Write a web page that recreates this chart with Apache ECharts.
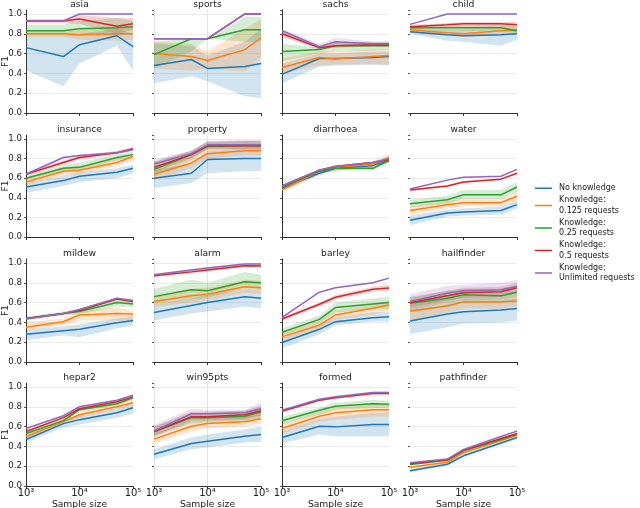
<!DOCTYPE html>
<html><head><meta charset="utf-8">
<script src="https://cdn.jsdelivr.net/npm/echarts/dist/echarts.min.js"></script>
<style>html,body{margin:0;padding:0;background:#fff}#c{width:640px;height:508px}</style>
</head><body><div id="c"></div>
<script>
// ---------- data ----------
const sampleSizes = [1000, 5000, 10000, 50000, 100000];
const seriesNames = ['No knowledge', 'Knowledge:\n0.125 requests', 'Knowledge:\n0.25 requests', 'Knowledge:\n0.5 requests', 'Knowledge:\nUnlimited requests'];
const seriesColors = ['#1f77b4', '#ff7f0e', '#2ca02c', '#d62728', '#9467bd'];
const panelNames = ['asia','sports','sachs','child','insurance','property','diarrhoea','water','mildew','alarm','barley','hailfinder','hepar2','win95pts','formed','pathfinder'];
const yTicks = [0, 0.2, 0.4, 0.6, 0.8, 1.0];

// order in each: [No knowledge, 0.125, 0.25, 0.5, Unlimited]
const asiaMean = [[0.66,0.57,0.69,0.78,0.67],[0.80,0.80,0.79,0.80,0.80],[0.83,0.83,0.85,0.86,0.87],[0.93,0.93,0.95,0.875,0.90],[0.93,0.93,1.0,1.0,1.0]];
const asiaLo   = [[0.43,0.27,0.50,0.68,0.43],[0.77,0.77,0.74,0.73,0.74],[0.77,0.77,0.79,0.78,0.80],[0.91,0.91,0.90,0.80,0.84],[0.93,0.93,1.0,1.0,1.0]];
const asiaHi   = [[0.77,0.77,0.80,0.85,0.80],[0.83,0.83,0.84,0.86,0.86],[0.89,0.89,0.93,0.96,0.93],[0.95,0.95,0.99,0.96,0.96],[0.93,0.93,1.0,1.0,1.0]];

const sportsMean = [[0.48,0.54,0.45,0.47,0.50],[0.60,0.57,0.53,0.64,0.76],[0.59,0.75,0.75,0.84,0.84],[0.75,0.75,0.75,1.0,1.0],[0.75,0.75,0.75,1.0,1.0]];
const sportsLo   = [[0.30,0.37,0.32,0.17,0.15],[0.45,0.43,0.45,0.42,0.56],[0.45,0.62,0.75,0.72,0.72],[0.75,0.75,0.75,1.0,1.0],[0.75,0.75,0.75,1.0,1.0]];
const sportsHi   = [[0.70,0.68,0.58,0.72,0.85],[0.72,0.70,0.62,0.85,0.95],[0.72,0.75,0.75,0.97,0.97],[0.75,0.75,0.75,1.0,1.0],[0.75,0.75,0.75,1.0,1.0]];

const sachsMean = [[0.39,0.55,0.55,0.56,0.57],[0.46,0.56,0.545,0.57,0.58],[0.62,0.64,0.68,0.68,0.68],[0.80,0.66,0.68,0.69,0.69],[0.83,0.67,0.72,0.70,0.70]];
const sachsLo   = [[0.30,0.47,0.48,0.49,0.48],[0.40,0.48,0.49,0.49,0.49],[0.52,0.60,0.62,0.63,0.64],[0.77,0.64,0.66,0.67,0.67],[0.80,0.64,0.68,0.68,0.68]];
const sachsHi   = [[0.50,0.60,0.60,0.62,0.62],[0.55,0.62,0.62,0.64,0.65],[0.70,0.66,0.72,0.72,0.72],[0.84,0.68,0.72,0.71,0.71],[0.85,0.70,0.76,0.72,0.72]];

const childMean = [[0.82,0.79,0.78,0.79,0.80],[0.84,0.81,0.80,0.83,0.84],[0.86,0.86,0.86,0.86,0.83],[0.87,0.89,0.90,0.90,0.89],[0.895,1.0,1.0,1.0,1.0]];
const childLo   = [[0.80,0.73,0.72,0.68,0.74],[0.81,0.78,0.77,0.79,0.80],[0.84,0.83,0.83,0.83,0.81],[0.85,0.87,0.87,0.87,0.86],[0.895,1.0,1.0,1.0,1.0]];
const childHi   = [[0.84,0.84,0.84,0.84,0.85],[0.86,0.85,0.85,0.87,0.87],[0.88,0.88,0.88,0.89,0.87],[0.89,0.91,0.92,0.92,0.92],[0.895,1.0,1.0,1.0,1.0]];

const insuranceMean = [[0.51,0.575,0.62,0.66,0.70],[0.56,0.67,0.68,0.76,0.82],[0.60,0.70,0.71,0.81,0.84],[0.64,0.76,0.81,0.86,0.90],[0.64,0.81,0.83,0.86,0.89]];
const insuranceLo   = [[0.45,0.52,0.56,0.60,0.65],[0.53,0.62,0.64,0.72,0.78],[0.58,0.67,0.68,0.78,0.82],[0.62,0.74,0.79,0.84,0.88],[0.63,0.80,0.82,0.85,0.88]];
const insuranceHi   = [[0.55,0.62,0.66,0.70,0.74],[0.59,0.71,0.73,0.80,0.85],[0.62,0.73,0.76,0.84,0.87],[0.66,0.78,0.83,0.88,0.92],[0.65,0.82,0.84,0.87,0.90]];

const propertyMean = [[0.60,0.65,0.79,0.80,0.80],[0.64,0.755,0.85,0.88,0.88],[0.69,0.84,0.925,0.93,0.93],[0.71,0.84,0.93,0.93,0.93],[0.745,0.85,0.94,0.94,0.94]];
const propertyLo   = [[0.50,0.55,0.65,0.67,0.67],[0.58,0.70,0.80,0.83,0.83],[0.62,0.78,0.89,0.89,0.89],[0.66,0.80,0.90,0.90,0.90],[0.69,0.81,0.90,0.90,0.90]];
const propertyHi   = [[0.68,0.75,0.88,0.90,0.90],[0.72,0.82,0.92,0.95,0.95],[0.76,0.88,0.97,0.98,0.98],[0.77,0.88,0.97,0.98,0.98],[0.79,0.88,0.98,0.99,0.99]];

const diarrhoeaMean = [[0.50,0.65,0.70,0.73,0.78],[0.48,0.67,0.71,0.74,0.81],[0.51,0.67,0.70,0.70,0.78],[0.52,0.68,0.72,0.76,0.79],[0.52,0.68,0.72,0.76,0.80]];
const diarrhoeaLo   = [[0.47,0.63,0.68,0.71,0.76],[0.45,0.64,0.67,0.71,0.78],[0.49,0.65,0.68,0.68,0.76],[0.51,0.67,0.71,0.75,0.78],[0.515,0.675,0.715,0.755,0.795]];
const diarrhoeaHi   = [[0.53,0.67,0.72,0.75,0.80],[0.51,0.69,0.74,0.77,0.85],[0.53,0.69,0.72,0.72,0.80],[0.53,0.69,0.73,0.77,0.80],[0.525,0.685,0.725,0.765,0.805]];

const waterMean = [[0.17,0.245,0.255,0.27,0.33],[0.27,0.33,0.35,0.35,0.415],[0.34,0.38,0.43,0.43,0.51],[0.48,0.52,0.56,0.59,0.65],[0.49,0.58,0.61,0.62,0.69]];
const waterLo   = [[0.12,0.21,0.22,0.23,0.29],[0.23,0.29,0.31,0.31,0.37],[0.30,0.34,0.39,0.39,0.46],[0.47,0.51,0.55,0.58,0.64],[0.485,0.575,0.605,0.615,0.685]];
const waterHi   = [[0.22,0.28,0.29,0.31,0.37],[0.31,0.37,0.39,0.39,0.46],[0.38,0.42,0.48,0.48,0.56],[0.49,0.53,0.57,0.60,0.66],[0.495,0.585,0.615,0.625,0.695]];

const mildewMean = [[0.28,0.315,0.33,0.397,0.42],[0.35,0.407,0.475,0.49,0.485],[0.44,0.49,0.51,0.60,0.586],[0.44,0.49,0.52,0.635,0.61],[0.434,0.49,0.53,0.644,0.62]];
const mildewLo   = [[0.22,0.27,0.25,0.34,0.36],[0.32,0.37,0.42,0.42,0.42],[0.42,0.47,0.48,0.56,0.55],[0.43,0.48,0.51,0.62,0.60],[0.43,0.485,0.525,0.64,0.615]];
const mildewHi   = [[0.33,0.36,0.38,0.44,0.46],[0.40,0.44,0.52,0.55,0.52],[0.46,0.51,0.54,0.63,0.62],[0.45,0.50,0.53,0.65,0.63],[0.44,0.495,0.535,0.65,0.625]];

const alarmMean = [[0.50,0.57,0.60,0.66,0.644],[0.61,0.67,0.685,0.76,0.75],[0.66,0.73,0.72,0.81,0.80],[0.87,0.91,0.93,0.973,0.97],[0.88,0.93,0.95,0.99,0.99]];
const alarmLo   = [[0.42,0.49,0.51,0.56,0.54],[0.55,0.60,0.62,0.70,0.69],[0.58,0.63,0.65,0.75,0.73],[0.855,0.895,0.915,0.96,0.955],[0.87,0.92,0.94,0.98,0.98]];
const alarmHi   = [[0.58,0.64,0.68,0.74,0.73],[0.68,0.74,0.75,0.83,0.82],[0.74,0.83,0.80,0.91,0.88],[0.885,0.925,0.945,0.985,0.985],[0.89,0.94,0.96,1.0,1.0]];

const barleyMean = [[0.197,0.33,0.407,0.447,0.457],[0.254,0.373,0.475,0.542,0.576],[0.30,0.43,0.55,0.586,0.60],[0.434,0.583,0.654,0.735,0.746],[0.45,0.705,0.75,0.80,0.847]];
const barleyLo   = [[0.14,0.28,0.37,0.41,0.41],[0.22,0.34,0.43,0.48,0.52],[0.26,0.39,0.50,0.53,0.53],[0.42,0.56,0.63,0.71,0.72],[0.445,0.70,0.745,0.795,0.842]];
const barleyHi   = [[0.24,0.38,0.45,0.50,0.51],[0.30,0.42,0.52,0.58,0.62],[0.34,0.47,0.60,0.64,0.66],[0.46,0.60,0.68,0.76,0.78],[0.455,0.71,0.755,0.805,0.852]];

const hailfinderMean = [[0.413,0.485,0.508,0.525,0.54],[0.515,0.566,0.607,0.607,0.617],[0.593,0.644,0.678,0.67,0.705],[0.60,0.67,0.70,0.71,0.75],[0.61,0.695,0.72,0.73,0.763]];
const hailfinderLo   = [[0.28,0.35,0.39,0.40,0.42],[0.42,0.50,0.54,0.54,0.56],[0.50,0.56,0.60,0.60,0.63],[0.55,0.62,0.65,0.66,0.70],[0.52,0.60,0.62,0.63,0.66]];
const hailfinderHi   = [[0.52,0.58,0.62,0.62,0.64],[0.60,0.64,0.67,0.67,0.69],[0.66,0.72,0.74,0.74,0.78],[0.65,0.72,0.75,0.76,0.80],[0.685,0.77,0.78,0.80,0.83]];

const hepar2Mean = [[0.47,0.63,0.67,0.74,0.79],[0.50,0.65,0.72,0.80,0.84],[0.53,0.66,0.77,0.83,0.89],[0.55,0.69,0.78,0.85,0.90],[0.58,0.71,0.80,0.866,0.916]];
const hepar2Lo   = [[0.44,0.59,0.62,0.69,0.73],[0.48,0.62,0.69,0.77,0.81],[0.51,0.64,0.75,0.81,0.87],[0.54,0.68,0.77,0.84,0.89],[0.575,0.705,0.795,0.861,0.911]];
const hepar2Hi   = [[0.50,0.66,0.71,0.78,0.83],[0.52,0.68,0.75,0.83,0.87],[0.55,0.68,0.79,0.85,0.91],[0.56,0.70,0.79,0.86,0.91],[0.585,0.715,0.805,0.871,0.921]];

const win95ptsMean = [[0.32,0.43,0.453,0.503,0.52],[0.473,0.604,0.63,0.648,0.68],[0.547,0.69,0.69,0.705,0.75],[0.55,0.70,0.70,0.72,0.76],[0.557,0.73,0.73,0.74,0.78]];
const win95ptsLo   = [[0.27,0.37,0.39,0.44,0.446],[0.43,0.55,0.58,0.60,0.63],[0.50,0.63,0.63,0.65,0.68],[0.51,0.65,0.66,0.67,0.71],[0.50,0.66,0.67,0.68,0.72]];
const win95ptsHi   = [[0.37,0.49,0.52,0.57,0.60],[0.53,0.65,0.67,0.70,0.74],[0.60,0.73,0.74,0.76,0.80],[0.60,0.75,0.75,0.76,0.81],[0.62,0.78,0.77,0.77,0.84]];

const formedMean = [[0.49,0.604,0.597,0.62,0.62],[0.58,0.705,0.74,0.77,0.77],[0.658,0.765,0.805,0.83,0.825],[0.755,0.865,0.89,0.935,0.935],[0.765,0.876,0.90,0.943,0.943]];
const formedLo   = [[0.43,0.52,0.50,0.50,0.50],[0.53,0.65,0.67,0.70,0.70],[0.62,0.72,0.77,0.79,0.79],[0.745,0.855,0.88,0.925,0.925],[0.755,0.866,0.89,0.933,0.933]];
const formedHi   = [[0.55,0.68,0.70,0.74,0.74],[0.63,0.75,0.79,0.82,0.82],[0.70,0.79,0.84,0.87,0.86],[0.765,0.875,0.90,0.945,0.945],[0.775,0.886,0.91,0.953,0.953]];

const pathfinderMean = [[0.154,0.22,0.305,0.435,0.49],[0.19,0.24,0.336,0.46,0.513],[0.218,0.26,0.356,0.47,0.523],[0.225,0.265,0.36,0.48,0.53],[0.235,0.272,0.37,0.50,0.554]];
const pathfinderLo   = [[0.14,0.205,0.29,0.42,0.475],[0.18,0.23,0.326,0.45,0.503],[0.21,0.252,0.348,0.462,0.515],[0.22,0.26,0.355,0.475,0.525],[0.23,0.268,0.366,0.496,0.55]];
const pathfinderHi   = [[0.168,0.235,0.32,0.45,0.505],[0.20,0.25,0.346,0.47,0.523],[0.226,0.268,0.364,0.478,0.531],[0.23,0.27,0.365,0.485,0.535],[0.24,0.276,0.374,0.504,0.558]];

const panelMeans = [asiaMean, sportsMean, sachsMean, childMean, insuranceMean, propertyMean, diarrhoeaMean, waterMean, mildewMean, alarmMean, barleyMean, hailfinderMean, hepar2Mean, win95ptsMean, formedMean, pathfinderMean];
const panelLos = [asiaLo, sportsLo, sachsLo, childLo, insuranceLo, propertyLo, diarrhoeaLo, waterLo, mildewLo, alarmLo, barleyLo, hailfinderLo, hepar2Lo, win95ptsLo, formedLo, pathfinderLo];
const panelHis = [asiaHi, sportsHi, sachsHi, childHi, insuranceHi, propertyHi, diarrhoeaHi, waterHi, mildewHi, alarmHi, barleyHi, hailfinderHi, hepar2Hi, win95ptsHi, formedHi, pathfinderHi];

// ---------- layout ----------
const FONT = 'DejaVu Sans';
const colLeft = [26, 154, 282, 410];
const rowTop = [10, 135, 259, 383];
const rowH = [103, 102, 103, 103];
const plotW = 107;
const sup = {3: '\u00b3', 4: '\u2074', 5: '\u2075'};

function hexA(hex, a) {
  const n = parseInt(hex.slice(1), 16);
  return 'rgba(' + ((n >> 16) & 255) + ',' + ((n >> 8) & 255) + ',' + (n & 255) + ',' + a + ')';
}

const grids = [], xAxes = [], yAxes = [], series = [], graphics = [];
panelNames.forEach((name, i) => {
  const r = Math.floor(i / 4), c = i % 4;
  grids.push({left: colLeft[c], top: rowTop[r], width: plotW, height: rowH[r], outerBoundsMode: 'none', containLabel: false});
  xAxes.push({
    type: 'log', logBase: 10, min: 1000, max: 100000, gridIndex: i,
    axisLine: {show: true, onZero: false, lineStyle: {color: '#333', width: 1}},
    axisTick: {show: true, length: 3, lineStyle: {color: '#333'}},
    minorTick: {show: false},
    axisLabel: {show: r === 3, fontSize: 10, color: '#222', fontFamily: FONT, margin: 2,
      formatter: v => '10' + sup[Math.round(Math.log10(v))]},
    splitLine: {show: c === 1, showMinLine: false, showMaxLine: false, lineStyle: {color: '#e3e3e3', width: 1}},
    name: r === 3 ? 'Sample size' : '', nameLocation: 'middle', nameGap: 14, nameMoveOverlap: false,
    nameTextStyle: {fontSize: 9.2, color: '#222', fontFamily: FONT}
  });
  yAxes.push({
    type: 'value', min: 0, max: 1.04, interval: 0.2, gridIndex: i,
    axisLine: {show: c === 0 || c === 2, lineStyle: {color: '#333', width: 1}},
    axisTick: {show: true, length: 2, lineStyle: {color: '#555'}},
    axisLabel: {show: c === 0, fontSize: 8.6, color: '#222', fontFamily: FONT, margin: 4, showMaxLabel: false,
      formatter: v => yTicks.some(t => Math.abs(t - v) < 1e-6) ? v.toFixed(1) : ''},
    splitLine: {show: true, showMinLine: false, showMaxLine: false, lineStyle: {color: '#ebebeb', width: 1}},
    name: c === 0 ? 'F1' : '', nameLocation: 'middle', nameGap: 16, nameRotate: 90, nameMoveOverlap: false,
    nameTextStyle: {fontSize: 9, color: '#222', fontFamily: FONT}
  });
  graphics.push({type: 'text', x: colLeft[c] + plotW / 2, y: rowTop[r] - 5, silent: true,
    style: {text: name, fontSize: 9.2, fontFamily: FONT, fill: '#222', textAlign: 'center', textVerticalAlign: 'middle'}});

  const means = panelMeans[i], los = panelLos[i], his = panelHis[i];
  for (let s = 0; s < 5; s++) {
    const bandData = sampleSizes.map((x, k) => [x, los[s][k], his[s][k]]);
    const fill = hexA(seriesColors[s], 0.2);
    series.push({
      type: 'custom', name: 'band', xAxisIndex: i, yAxisIndex: i, data: bandData, clip: true, silent: true, z: 1,
      encode: {x: 0, y: [1, 2]},
      renderItem: (params, api) => {
        if (params.dataIndex !== 0) return null;
        const pts = [];
        for (let k = 0; k < bandData.length; k++) pts.push(api.coord([bandData[k][0], bandData[k][2]]));
        for (let k = bandData.length - 1; k >= 0; k--) pts.push(api.coord([bandData[k][0], bandData[k][1]]));
        return {type: 'polygon', shape: {points: pts}, style: {fill: fill, stroke: null}};
      }
    });
  }
  for (let s = 0; s < 5; s++) {
    series.push({
      type: 'line', name: seriesNames[s], xAxisIndex: i, yAxisIndex: i,
      data: sampleSizes.map((x, k) => [x, means[s][k]]),
      symbol: 'none', z: 2 + s, clip: true,
      lineStyle: {color: seriesColors[s], width: 1.5},
      itemStyle: {color: seriesColors[s]},
      emphasis: {disabled: true}
    });
  }
});

const chart = echarts.init(document.getElementById('c'), null, {renderer: 'canvas'});
chart.setOption({
  animation: false,
  backgroundColor: '#fff',
  textStyle: {fontFamily: FONT},
  grid: grids, xAxis: xAxes, yAxis: yAxes, series: series,
  graphic: graphics,
  legend: {
    data: seriesNames, orient: 'vertical', left: 535, top: 183, padding: 0,
    icon: 'rect', itemWidth: 17, itemHeight: 1.5, itemGap: 1.5,
    selectedMode: false,
    textStyle: {fontSize: 8, lineHeight: 10.5, color: '#222', fontFamily: FONT, padding: [0, 0, 0, 2]}
  },
  tooltip: {show: false}
});
</script>
</body></html>
